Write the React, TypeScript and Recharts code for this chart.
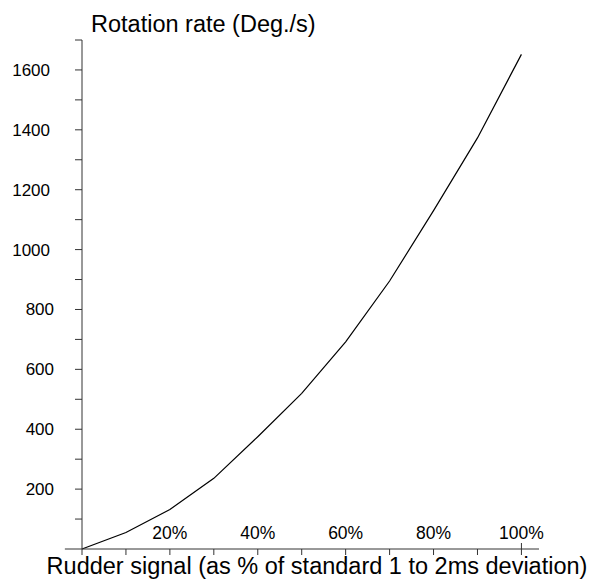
import {Line, LineChart, ReferenceLine, XAxis, YAxis} from "recharts";

const signalPct = [0, 10, 20, 30, 40, 50, 60, 70, 80, 90, 100];
const rotationRate = [0, 55, 132, 236, 375, 520, 692, 895, 1130, 1373, 1652];

const xTicks = [0, 10, 20, 30, 40, 50, 60, 70, 80, 90, 100];
const xLabelTicks = [20, 40, 60, 80, 100];
const yTicks = [100, 200, 300, 400, 500, 600, 700, 800, 900, 1000, 1100, 1200, 1300, 1400, 1500, 1600, 1700];
const yLabelTicks = [200, 400, 600, 800, 1000, 1200, 1400, 1600];

const FONT = "'Liberation Sans', Arial, sans-serif";
const AXIS = "#333";

const data = signalPct.map((p, i) => ({pct: p, rate: rotationRate[i]}));

const XTick = ({x, y, payload}: any) => {
    const v = payload.value;
    return (
        <g>
            {v === 100 && <line x1={x} x2={x} y1={y - 6} y2={y - 12} stroke={AXIS} />}
            {xLabelTicks.includes(v) && (
                <text x={x} y={y - 16} textAnchor="middle" fontSize={17.5} fontFamily={FONT} fill="#000">
                    {v + "%"}
                </text>
            )}
        </g>
    );
};

const YTick = ({x, y, payload}: any) => {
    const v = payload.value;
    if (!yLabelTicks.includes(v)) return null;
    const label = String(v);
    // 4 digit labels sit a bit further left in the original
    const dx = label.length > 3 ? 25 : 21;
    return (
        <text x={x - dx} y={y} dy={6} textAnchor="end" fontSize={17} fontFamily={FONT} fill="#000">
            {label}
        </text>
    );
};

const App = () => {
    return (
        <div style={{position: "absolute", left: 0, top: 0, background: "#fff"}}>
            <LineChart width={595} height={580} data={data}
                       margin={{top: 40, right: 56, bottom: 0, left: 0}}>
                <XAxis dataKey="pct" type="number" domain={[0, 104]} ticks={xTicks}
                       height={31} tickSize={6} tickMargin={0}
                       axisLine={{stroke: AXIS}} tickLine={{stroke: AXIS}}
                       tick={<XTick />}
                       label={{
                           content: (props: any) => {
                               const vb = props.viewBox;
                               return (
                                   <text x={317} y={vb.y + 25} textAnchor="middle" fontSize={23.5}
                                         fontFamily={FONT} fill="#000">
                                       Rudder signal (as % of standard 1 to 2ms deviation)
                                   </text>
                               );
                           }
                       }}
                />
                <YAxis type="number" domain={[0, 1700]} ticks={yTicks} width={82}
                       tickSize={7} tickMargin={0}
                       axisLine={{stroke: AXIS}} tickLine={{stroke: AXIS}}
                       tick={<YTick />}
                       label={{
                           content: (props: any) => {
                               const vb = props.viewBox;
                               return (
                                   <text x={vb.x + vb.width + 9} y={vb.y - 8} fontSize={23.5}
                                         fontFamily={FONT} fill="#000">
                                       Rotation rate (Deg./s)
                                   </text>
                               );
                           }
                       }}
                />
                <ReferenceLine segment={[{x: -3.9, y: 0}, {x: 0, y: 0}]} ifOverflow="visible"
                               stroke={AXIS} />
                <Line type="linear" dataKey="rate" stroke="#000" strokeWidth={1.2}
                      dot={false} isAnimationActive={false} />
            </LineChart>
        </div>
    );
};

export default App;
